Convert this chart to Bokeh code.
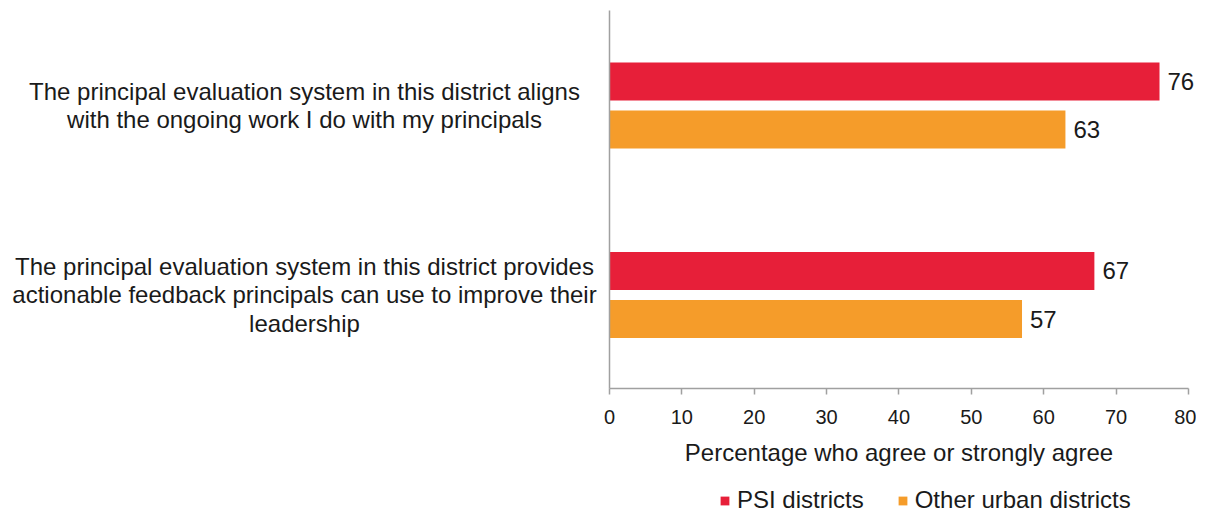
from bokeh.plotting import figure
from bokeh.models import (ColumnDataSource, Range1d, FixedTicker, Legend, LegendItem)
from bokeh.transform import dodge
from bokeh.core.properties import value
from bokeh.embed import file_html
from bokeh.resources import INLINE

# ---- data ----
categories = [
    "The principal evaluation system in this district aligns\nwith the ongoing work I do with my principals",
    "The principal evaluation system in this district provides\nactionable feedback principals can use to improve their\nleadership",
]
series = ["PSI districts", "Other urban districts"]
psi_values = [76, 67]
other_values = [63, 57]
x_ticks = [0, 10, 20, 30, 40, 50, 60, 70, 80]
axis_title = "Percentage who agree or strongly agree"
colors = ["#E71F39", "#F59C2A"]

FONT = "Liberation Sans"
TXT = "#1a1a1a"
GREY = "#A0A0A0"

# category slots: first category on top
n = len(categories)
positions = [n - 1 - i for i in range(n)]

src = ColumnDataSource(dict(
    cat=categories,
    pos=positions,
    psi=psi_values,
    other=other_values,
    psi_lbl=[str(v) for v in psi_values],
    other_lbl=[str(v) for v in other_values],
))

# layout geometry (pixels -> data)
x_px_per_unit = 7.237
x_zero_px = 609
W, H = 1196, 515
y_px_per_unit = 189.5
top_group_px = 105            # canvas y of the top category centre
axis_y = -(388 - (top_group_px + y_px_per_unit)) / y_px_per_unit
top_y = 1 + (top_group_px - 10) / y_px_per_unit

p = figure(width=W, height=H,
           x_range=Range1d(-x_zero_px / x_px_per_unit, (W - x_zero_px) / x_px_per_unit),
           y_range=Range1d(-(H - top_group_px - y_px_per_unit) / y_px_per_unit,
                           1 + top_group_px / y_px_per_unit),
           output_backend="svg", toolbar_location=None,
           min_border_left=0, min_border_right=0,
           min_border_top=0, min_border_bottom=0)
p.outline_line_color = None
p.grid.visible = False
p.background_fill_color = "white"
p.border_fill_color = "white"

off = 0.127
bh = 0.2
r1 = p.hbar(y=dodge("pos", off), left=0, right="psi", height=bh,
            fill_color=colors[0], line_color=None, source=src)
r2 = p.hbar(y=dodge("pos", -off), left=0, right="other", height=bh,
            fill_color=colors[1], line_color=None, source=src)

p.text(x="psi", y=dodge("pos", off), text="psi_lbl", source=src,
       x_offset=8, text_align="left", text_baseline="middle",
       text_font=value(FONT), text_font_size="24px", text_color=TXT)
p.text(x="other", y=dodge("pos", -off), text="other_lbl", source=src,
       x_offset=8, text_align="left", text_baseline="middle",
       text_font=value(FONT), text_font_size="24px", text_color=TXT)

# category labels (left of the vertical axis)
p.text(x=0, y="pos", text="cat", source=src,
       x_offset=-305, text_align="center", text_baseline="middle",
       text_font=value(FONT), text_font_size="24px", text_color=TXT,
       text_line_height=1.07)

# vertical axis: line only
yax = p.yaxis[0]
yax.fixed_location = 0
yax.bounds = (axis_y, top_y)
yax.ticker = FixedTicker(ticks=[])
yax.axis_line_color = GREY
yax.axis_line_width = 1.5
yax.major_tick_line_color = None
yax.minor_tick_line_color = None
yax.major_label_text_font_size = "0px"

# horizontal axis
ax = p.xaxis[0]
ax.fixed_location = axis_y
ax.bounds = (0, 80)
ax.ticker = FixedTicker(ticks=x_ticks)
ax.axis_line_color = GREY
ax.axis_line_width = 1.5
ax.major_tick_line_color = GREY
ax.major_tick_line_width = 1.5
ax.major_tick_in = 0
ax.major_tick_out = 6
ax.minor_tick_line_color = None
ax.major_label_text_font = FONT
ax.major_label_text_font_size = "20px"
ax.major_label_text_color = TXT
ax.major_label_standoff = 15
ax.axis_label = axis_title
ax.axis_label_text_font = FONT
ax.axis_label_text_font_size = "24px"
ax.axis_label_text_font_style = "normal"
ax.axis_label_text_color = TXT
ax.axis_label_standoff = 12

legend = Legend(items=[LegendItem(label=series[0], renderers=[r1]),
                       LegendItem(label=series[1], renderers=[r2])],
                orientation="horizontal", location=(719, 1),
                glyph_width=11, glyph_height=11, label_standoff=7, spacing=33,
                padding=0, margin=0, border_line_color=None,
                background_fill_alpha=0,
                label_text_font=FONT, label_text_font_size="24px",
                label_text_color=TXT)
p.add_layout(legend)

open("out.html", "w").write(file_html(p, INLINE))
